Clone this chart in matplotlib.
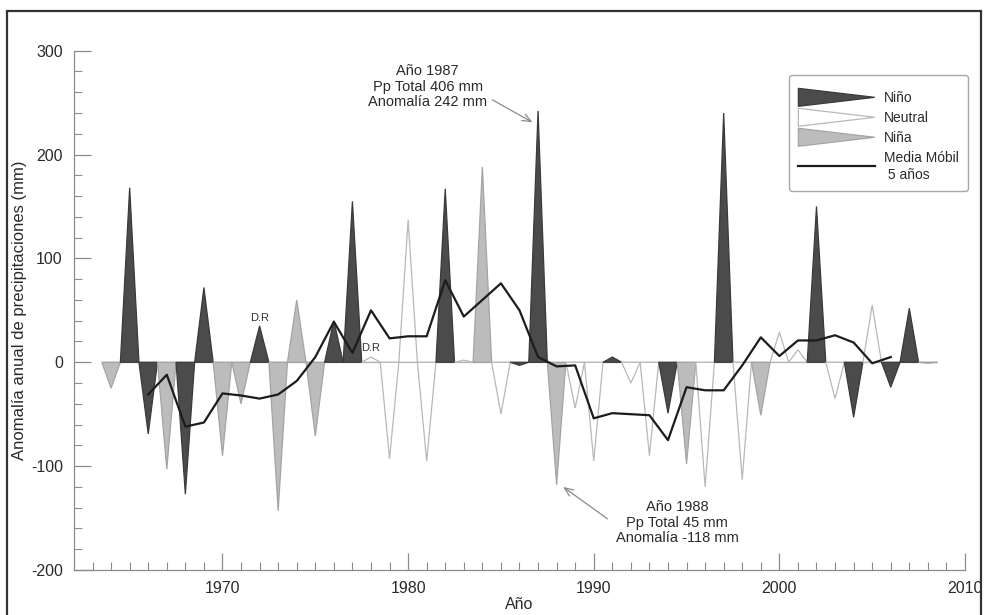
# -*- coding: utf-8 -*-
'''
Anomalía anual de precipitaciones según la fase ENSO (Niño, Neutral, Niña)
con la media móvil de 5 años.
'''
import matplotlib
matplotlib.use('Agg')
from matplotlib import pyplot as plt
import matplotlib.patches as mpatches
from matplotlib.lines import Line2D
from matplotlib.legend_handler import HandlerPatch
from matplotlib.ticker import MultipleLocator

plt.rcParams['font.family'] = ['Liberation Sans', 'DejaVu Sans']
plt.rcParams['axes.unicode_minus'] = False

########################################################################################
# DATOS
anyos = list(range(1964, 2009))
anomalias = [-25, 168, -69, -103, -127, 72, -90, -40, 35, -143,
             60, -71, 40, 155, 5, -93, 137, -95, 167, 2,
             188, -50, -3, 242, -118, -44, -95, 5, -20, -90,
             -49, -98, -120, 240, -113, -51, 29, 12, 150, -35,
             -53, 55, -24, 52, -1]
fases = ['Niña', 'Niño', 'Niño', 'Niña', 'Niño', 'Niño', 'Niña', 'Niña', 'Niño', 'Niña',
         'Niña', 'Niña', 'Niño', 'Niño', 'Neutral', 'Neutral', 'Neutral', 'Neutral', 'Niño', 'Neutral',
         'Niña', 'Neutral', 'Niño', 'Niño', 'Niña', 'Neutral', 'Neutral', 'Niño', 'Neutral', 'Neutral',
         'Niño', 'Niña', 'Neutral', 'Niño', 'Neutral', 'Niña', 'Neutral', 'Neutral', 'Niño', 'Neutral',
         'Niño', 'Neutral', 'Niño', 'Niño', 'Niña']

anyos_media = list(range(1966, 2007))
media_movil = [-31, -12, -62, -58, -30, -32, -35, -31, -18, 5,
               39, 9, 50, 23, 25, 25, 79, 44, 60, 76,
               50, 5, -4, -3, -54, -49, -50, -51, -75, -24,
               -27, -27, -3, 24, 6, 21, 21, 26, 19, -1, 5]

anyos_dr = [1972, 1978]
altura_dr = [43, 14]

colores = {'Niño': ('#4b4b4b', '#3a3a3a'),
           'Neutral': ('#ffffff', '#b8b8b8'),
           'Niña': ('#bcbcbc', '#a4a4a4')}
###############################################################################################


class HandlerCunya(HandlerPatch):
    ''' Dibuja en la leyenda un triángulo que se estrecha hacia la derecha '''
    def create_artists(self, legend, orig_handle, xdescent, ydescent,
                       width, height, fontsize, trans):
        x0, y0 = -xdescent, -ydescent
        p = mpatches.Polygon([[x0, y0 - 2], [x0, y0 + height + 2],
                              [x0 + width, y0 + height / 2]], closed=True)
        self.update_prop(p, orig_handle, legend)
        p.set_transform(trans)
        return [p]


fig = plt.figure(figsize=(9.85, 6.15), dpi=100)
ax = fig.add_axes([0.0751, 0.0732, 0.9046, 0.8444])

# marco exterior de la figura
fig.patches.append(mpatches.Rectangle((0.0071, -0.05), 0.9889, 1.032, transform=fig.transFigure,
                                      fill=False, edgecolor='#333333', linewidth=1.6))

# un triángulo por año, centrado en el año
for a, v, f in zip(anyos, anomalias, fases):
    relleno, borde = colores[f]
    ax.fill([a - 0.5, a, a + 0.5], [0, v, 0], facecolor=relleno, edgecolor=borde,
            linewidth=0.9, zorder=2)

ax.hlines(0, anyos[0] - 0.5, anyos[-1] + 0.5, color='#9a9a9a', linewidth=0.9, zorder=1.5)
ax.plot(anyos_media, media_movil, color='#1c1c1c', linewidth=1.6, zorder=4)

for a, h in zip(anyos_dr, altura_dr):
    ax.text(a, h, 'D.R', ha='center', va='center', fontsize=8, color='#333333')

# anotaciones de los años extremos
flecha = dict(arrowstyle='->,head_length=0.6,head_width=0.25', color='#8a8a8a',
              linewidth=0.9, shrinkA=2, shrinkB=0)
ax.annotate('Año 1987\nPp Total 406 mm\nAnomalía 242 mm', xy=(1986.7, 231),
            xytext=(1981.05, 265.5), ha='center', va='center', fontsize=10.5,
            color='#2a2a2a', linespacing=1.15,
            arrowprops=dict(flecha, relpos=(0.98, 0.3)))
ax.annotate('Año 1988\nPp Total 45 mm\nAnomalía -118 mm', xy=(1988.35, -120),
            xytext=(1994.5, -154.5), ha='center', va='center', fontsize=10.5,
            color='#2a2a2a', linespacing=1.15,
            arrowprops=dict(flecha, relpos=(-0.05, 0.55)))

# ejes
ax.set_xlim(1962, 2010)
ax.set_ylim(-200, 300)
ax.set_xticks([1970, 1980, 1990, 2000, 2010])
ax.xaxis.set_minor_locator(MultipleLocator(1))
ax.yaxis.set_major_locator(MultipleLocator(100))
ax.yaxis.set_minor_locator(MultipleLocator(20))
ax.tick_params(which='both', direction='in', colors='#8c8c8c', labelcolor='#2a2a2a',
               labelsize=11.5)
ax.tick_params(which='major', length=12, width=0.9, pad=8)
ax.tick_params(which='minor', length=6, width=0.8)
for lado in ['top', 'right']:
    ax.spines[lado].set_visible(False)
for lado in ['left', 'bottom']:
    ax.spines[lado].set_color('#8c8c8c')
    ax.spines[lado].set_linewidth(0.9)

ax.set_xlabel('Año', fontsize=11.5, color='#2a2a2a', labelpad=1)
ax.set_ylabel('Anomalía anual de precipitaciones (mm)', fontsize=12, color='#2a2a2a', labelpad=3)

# leyenda (el título vacío sólo deja algo más de margen arriba)
manejadores = [mpatches.Polygon([[0, 0]], facecolor=colores[f][0], edgecolor=colores[f][1],
                                linewidth=0.9) for f in ['Niño', 'Neutral', 'Niña']]
manejadores.append(Line2D([], [], color='#1c1c1c', linewidth=1.6))
etiquetas = ['Niño', 'Neutral', 'Niña', 'Media Móbil\n 5 años']
leg = ax.legend(manejadores, etiquetas, loc='upper right', bbox_to_anchor=(1.003, 0.953),
                borderaxespad=0, fontsize=10, handlelength=5.5, handleheight=1.0,
                handletextpad=0.65, labelspacing=0.43, borderpad=0.65,
                title=' ', title_fontsize=1,
                fancybox=True, framealpha=1, edgecolor='#a8a8a8',
                handler_map={mpatches.Polygon: HandlerCunya()})
leg.get_frame().set_linewidth(1.0)
for t in leg.get_texts():
    t.set_color('#2a2a2a')
    t.set_linespacing(1.25)

plt.savefig('out.png', dpi=100)
